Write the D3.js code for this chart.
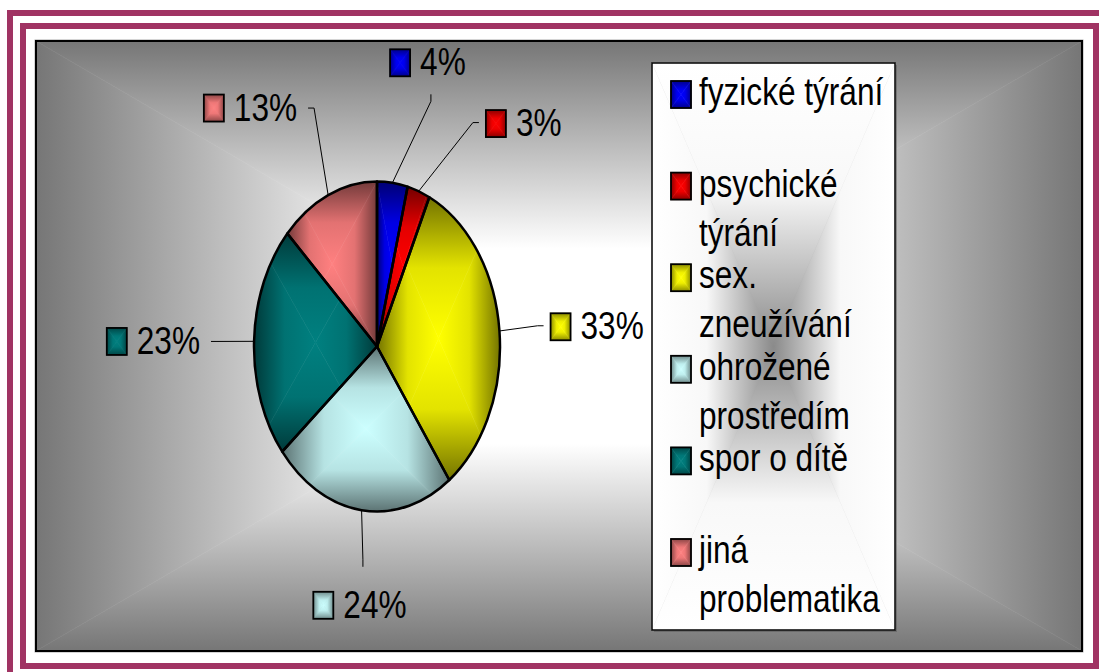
<!DOCTYPE html>
<html><head><meta charset="utf-8">
<script src="https://cdn.jsdelivr.net/npm/d3@7/dist/d3.min.js"></script>
<style>html,body{margin:0;padding:0;background:#fff;overflow:hidden}</style>
</head><body>
<svg id="c" width="1099" height="672"></svg>
<script>
// ---- data ----
const categories = ["fyzické týrání","psychické týrání","sex. zneužívání","ohrožené prostředím","spor o dítě","jiná problematika"];
const legendLines = [["fyzické týrání"],["psychické","týrání"],["sex.","zneužívání"],["ohrožené","prostředím"],["spor o dítě"],["jiná","problematika"]];
const values = [4,3,33,24,23,13];
const valueLabels = ["4%","3%","33%","24%","23%","13%"];
const colors = ["#0000FF","#FF0000","#FFFF00","#CCFFFF","#008080","#FF8080"];

// ---- layout (not data) ----
const labelAngles = [16, 31.4, 84.7, 184.9, 271.3, 338.8];
const labelRadii = [1.59, 1.59, 1.36, 1.34, 1.35, 1.55];
const labelSides = ["above","right","right","below","left","left"];

const W = 1099, H = 672;
const maroon = "#A03363";
const FONT = "'Liberation Sans', Arial, sans-serif";
const FS = 39, SX = 0.81;

const svg = d3.select("#c");
const defs = svg.append("defs");
let gid = 0;

function scaleColor(c, k) {
  const r = d3.rgb(c);
  return d3.rgb(r.r * k, r.g * k, r.b * k).formatHex();
}

// rectangular "path gradient" from a box edge to its center
function pathGradient(g, box, edgeColor, centerColor, stops) {
  const {x0, y0, x1, y1} = box;
  const cx = (x0 + x1) / 2, cy = (y0 + y1) / 2;
  const tris = [
    {pts: [[x0,y0],[x1,y0],[cx,cy]], from: [cx,y0]},
    {pts: [[x1,y0],[x1,y1],[cx,cy]], from: [x1,cy]},
    {pts: [[x1,y1],[x0,y1],[cx,cy]], from: [cx,y1]},
    {pts: [[x0,y1],[x0,y0],[cx,cy]], from: [x0,cy]}
  ];
  const interp = d3.interpolateRgb(edgeColor, centerColor);
  tris.forEach(t => {
    const id = "pg" + (gid++);
    const lg = defs.append("linearGradient").attr("id", id)
      .attr("gradientUnits", "userSpaceOnUse")
      .attr("x1", t.from[0]).attr("y1", t.from[1]).attr("x2", cx).attr("y2", cy);
    stops.forEach(s => lg.append("stop").attr("offset", s[0]).attr("stop-color", interp(s[1])));
    g.append("path").attr("d", "M" + t.pts.map(p => p.join(",")).join("L") + "Z")
      .attr("fill", `url(#${id})`).attr("stroke", `url(#${id})`).attr("stroke-width", 0.6);
  });
}

function swatch(g, x, y, w, h, color) {
  const s = g.append("g");
  pathGradient(s, {x0: x, y0: y, x1: x + w, y1: y + h}, scaleColor(color, 0.55), color, [[0,0],[0.6,0.85],[1,1]]);
  s.append("rect").attr("x", x).attr("y", y).attr("width", w).attr("height", h)
    .attr("fill", "none").attr("stroke", "#000").attr("stroke-width", 1.8);
}

function text(g, x, y, str) {
  return g.append("text").attr("transform", `translate(${x},${y}) scale(${SX},1)`)
    .attr("font-family", FONT).attr("font-size", FS).attr("fill", "#000").text(str);
}

// ---- frames ----
svg.append("rect").attr("x", 10).attr("y", 13).attr("width", 1300).attr("height", 1000)
  .attr("fill", "none").attr("stroke", maroon).attr("stroke-width", 6);
svg.append("rect").attr("x", 23).attr("y", 26).attr("width", 1073).attr("height", 640)
  .attr("fill", "none").attr("stroke", maroon).attr("stroke-width", 6);

// ---- plot area ----
const plot = {x0: 36, y0: 41, x1: 1082, y1: 651};
const bg = svg.append("g");
pathGradient(bg, plot, "#767676", "#ffffff", [[0,0],[0.68,1],[1,1]]);
svg.append("rect").attr("x", plot.x0 - 1).attr("y", plot.y0 - 1)
  .attr("width", plot.x1 - plot.x0 + 2).attr("height", plot.y1 - plot.y0 + 2)
  .attr("fill", "none").attr("stroke", "#aaa").attr("stroke-width", 1);
svg.append("rect").attr("x", plot.x0).attr("y", plot.y0)
  .attr("width", plot.x1 - plot.x0).attr("height", plot.y1 - plot.y0)
  .attr("fill", "none").attr("stroke", "#000").attr("stroke-width", 2);

// ---- pie ----
const cx = 377, cy = 346.5, ry = 165, rx = 123;
const pie = d3.pie().sort(null).value(d => d)(values);
const arc = d3.arc().innerRadius(0).outerRadius(ry);
const gPie = svg.append("g").attr("transform", `translate(${cx},${cy}) scale(${rx / ry},1)`);

pie.forEach((p, i) => {
  const d = arc(p);
  const cid = "clip" + i;
  defs.append("clipPath").attr("id", cid).append("path").attr("d", d);
  const tmp = gPie.append("path").attr("d", d).attr("fill", "none");
  const bb = tmp.node().getBBox();
  tmp.remove();
  const gs = gPie.append("g").attr("clip-path", `url(#${cid})`);
  pathGradient(gs, {x0: bb.x, y0: bb.y, x1: bb.x + bb.width, y1: bb.y + bb.height},
    scaleColor(colors[i], 0.45), colors[i], [[0,0],[0.5,0.8],[1,1]]);
});
gPie.selectAll("path.edge").data(pie).join("path").attr("class", "edge")
  .attr("d", arc).attr("fill", "none").attr("stroke", "#000").attr("stroke-width", 2.5)
  .attr("stroke-linejoin", "round").attr("vector-effect", "non-scaling-stroke");

// ---- data labels with leader lines ----
const gLab = svg.append("g");
pie.forEach((p, i) => {
  const mid = (p.startAngle + p.endAngle) / 2;
  const sx = cx + rx * Math.sin(mid), sy = cy - ry * Math.cos(mid);
  const A = labelAngles[i] * Math.PI / 180, R = labelRadii[i];
  const ex = cx + rx * R * Math.sin(A), ey = cy - ry * R * Math.cos(A);
  const side = labelSides[i];
  let elx = ex, ely = ey;
  if (side === "above") ely = ey + 7;
  if (side === "below") ely = ey - 7;
  if (side === "right") elx = ex - 6;
  if (side === "left") elx = ex + 6;
  gLab.append("path").attr("d", `M${sx},${sy}L${elx},${ely}L${ex},${ey}`)
    .attr("fill", "none").attr("stroke", "#000").attr("stroke-width", 1);

  // measure text
  const t = text(gLab, 0, 0, valueLabels[i]);
  const tw = t.node().getComputedTextLength() * SX;
  const sw = 20, sh = 27, gap = 10;
  const bw = sw + gap + tw;
  let bx, bcy;
  if (side === "above") { bx = ex - 3 - bw / 2; bcy = ey - 18 - sh / 2; }
  if (side === "below") { bx = ex - 3 - bw / 2; bcy = ey + 25 + sh / 2; }
  if (side === "right") { bx = ex + 7; bcy = ey + 1; }
  if (side === "left") { bx = ex - 11 - bw; bcy = ey; }
  swatch(gLab, bx, bcy - sh / 2, sw, sh, colors[i]);
  t.attr("transform", `translate(${bx + sw + gap},${bcy + 12.5}) scale(${SX},1)`);
});

// ---- legend ----
const leg = {x0: 652, y0: 63, x1: 895, y1: 630};
const gLeg = svg.append("g");
svg.append("rect").attr("x", leg.x0 + 2).attr("y", leg.y0 + 2)
  .attr("width", leg.x1 - leg.x0).attr("height", leg.y1 - leg.y0).attr("fill", "#555").attr("opacity", 0.5);
const gLegBg = svg.append("g");
pathGradient(gLegBg, leg, "#ffffff", "#8a8a8a", [[0,0],[0.45,0.06],[1,1]]);
svg.append("rect").attr("x", leg.x0).attr("y", leg.y0)
  .attr("width", leg.x1 - leg.x0).attr("height", leg.y1 - leg.y0)
  .attr("fill", "none").attr("stroke", "#000").attr("stroke-width", 1.5);
const gLegItems = svg.append("g");
legendLines.forEach((lines, i) => {
  const base = 105 + i * 91.6;
  swatch(gLegItems, 671, base - 24, 20, 27, colors[i]);
  lines.forEach((ln, j) => text(gLegItems, 699, base + j * 49, ln));
});
</script>
</body></html>
